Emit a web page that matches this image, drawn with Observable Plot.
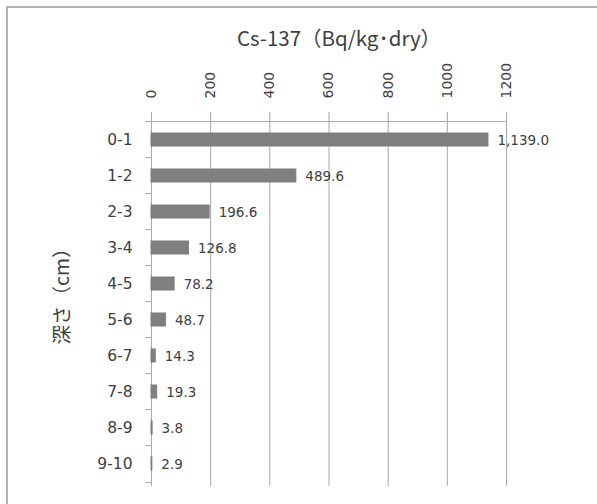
<!DOCTYPE html>
<html>
<head>
<meta charset="utf-8">
<script src="https://cdn.jsdelivr.net/npm/d3@7"></script>
<script src="https://cdn.jsdelivr.net/npm/@observablehq/plot@0.6"></script>
<style>
  body { margin: 0; background: #fff; }
  #wrap { position: relative; width: 597px; height: 504px; overflow: hidden; }
  #border { position: absolute; left: 6px; top: 6px; width: 700px; height: 700px;
            border-left: 2px solid #b4b4b4; border-top: 2px solid #b4b4b4; }
  #chart { position: absolute; left: 0; top: 0; }
</style>
</head>
<body>
<div id="wrap"><div id="border"></div><div id="chart"></div></div>
<script>
// Soil depth layers (cm) and Cs-137 activity in each layer (Bq/kg dry)
const depths = ["0-1", "1-2", "2-3", "3-4", "4-5", "5-6", "6-7", "7-8", "8-9", "9-10"];
const cs137 = [1139.0, 489.6, 196.6, 126.8, 78.2, 48.7, 14.3, 19.3, 3.8, 2.9];
const xTicks = [0, 200, 400, 600, 800, 1000, 1200];
const xTitle = "Cs-137（Bq/kg･dry）";
const yTitle = "深さ（cm）";

const width = 597, height = 504;
const margin = {top: 117, right: 91, bottom: 18, left: 151};
// each depth row occupies an equal slice of the plot height
const step = (height - margin.top - margin.bottom) / depths.length;

const rows = depths.map((depth, i) => ({depth, value: cs137[i]}));
const fmt = d3.format(",.1f");
const lineColor = "#a8a8a8";
const textColor = "#404040";
const barColor = "#7f7f7f";
const numFont = "DejaVu Sans";
const jpFont = "Noto Sans CJK JP";

const chart = Plot.plot({
  width, height,
  marginTop: margin.top, marginRight: margin.right,
  marginBottom: margin.bottom, marginLeft: margin.left,
  style: {fontFamily: numFont, color: textColor, background: "transparent", overflow: "visible"},
  x: {domain: [xTicks[0], xTicks[xTicks.length - 1]]},
  y: {domain: depths, paddingInner: 0.65, paddingOuter: 0.325},
  marks: [
    // vertical gridlines
    Plot.ruleX(xTicks, {stroke: lineColor}),
    // horizontal line along the top of the plot
    Plot.ruleY([depths[0]], {dy: -step / 2, stroke: lineColor}),
    // top axis with rotated tick labels
    Plot.axisX({anchor: "top", ticks: xTicks, tickSize: 6, tickPadding: 13, tickRotate: -90,
                tickFormat: d => String(d), fontSize: 14, fontFamily: numFont,
                stroke: lineColor, fill: textColor, label: null}),
    // axis titles
    Plot.text([xTitle], {frameAnchor: "top", textAnchor: "middle", lineAnchor: "middle",
                         dx: 10, dy: -78, fontSize: 20.5, fontFamily: jpFont, fill: textColor}),
    Plot.text([yTitle], {frameAnchor: "left", textAnchor: "middle", lineAnchor: "middle", rotate: -90,
                         dx: -89, dy: -10.5, fontSize: 19.5, fontFamily: jpFont, fill: textColor}),
    // vertical axis line
    Plot.ruleX([0], {stroke: lineColor}),
    // tick marks on the row boundaries
    Plot.axisY({ticks: depths, tickSize: 6, tickFormat: () => "", dy: -step / 2, stroke: lineColor, label: null}),
    Plot.axisY({ticks: [depths[depths.length - 1]], tickSize: 6, tickFormat: () => "", dy: step / 2,
                stroke: lineColor, label: null}),
    // depth labels
    Plot.axisY({ticks: depths, tickSize: 0, tickPadding: 19, fontSize: 15.5, fontFamily: numFont,
                fill: textColor, label: null}),
    // bars
    Plot.barX(rows, {x: "value", y: "depth", fill: barColor, stroke: barColor, strokeWidth: 1}),
    // value labels
    Plot.text(rows, {x: "value", y: "depth", text: d => fmt(d.value), textAnchor: "start",
                     dx: 9, dy: 1, fontSize: 13.5, fontFamily: numFont, fill: textColor})
  ]
});

document.getElementById("chart").append(chart);
</script>
</body>
</html>
